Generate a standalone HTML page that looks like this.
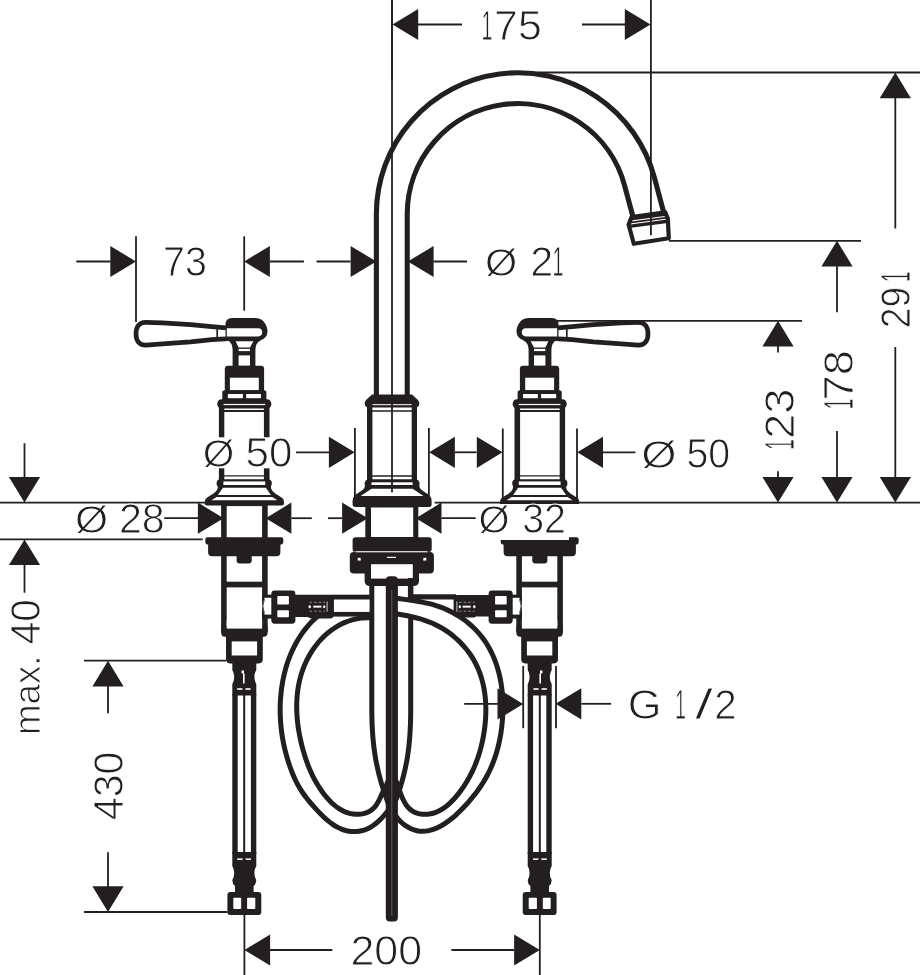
<!DOCTYPE html>
<html lang="en"><head><meta charset="utf-8"><title>Dimensional drawing</title>
<style>html,body{margin:0;padding:0;background:#fff}body{width:920px;height:975px;overflow:hidden}</style>
</head><body>
<svg width="920" height="975" viewBox="0 0 920 975" font-family='"Liberation Sans", "DejaVu Sans", sans-serif' style="display:block;will-change:transform;opacity:0.999">
<rect width="920" height="975" fill="#fff"/>
<path d="M391.8,398 V214.2 A126.0,126.0 0 0 1 639.51,181.59 L649.34,218.29" fill="none" stroke="#231f20" stroke-width="35.95" />
<path d="M391.8,398 V214.2 A126.0,126.0 0 0 1 639.51,181.59 L649.34,218.29" fill="none" stroke="#fff" stroke-width="25.75" />
<polygon points="631.6,217 665.4,212.4 667.8,218.6 668.8,238.2 633.8,243.8 628.6,224.6" fill="#fff" stroke="#231f20" stroke-width="4.2" stroke-linejoin="round"/>
<line x1="630.3" y1="218.4" x2="666.4" y2="213.6" stroke="#231f20" stroke-width="4.2" />
<line x1="629.6" y1="222.6" x2="667.2" y2="217.6" stroke="#231f20" stroke-width="1.6" />
<line x1="628.8" y1="226.4" x2="667.6" y2="221.2" stroke="#231f20" stroke-width="3.4" />
<path d="M372,394.6 H412 L417.4,399.4 Q419.3,401 419.3,403.3 Q419.3,407.6 415,407.6 H369 Q364.7,407.6 364.7,403.3 Q364.7,401 366.6,399.4 Z" fill="#231f20" stroke="none" stroke-width="0" />
<line x1="372.5" y1="404.7" x2="411.6" y2="404.7" stroke="#fff" stroke-width="1"/>
<rect x="367" y="405" width="5.4" height="75" rx="0" fill="#231f20" />
<rect x="411.7" y="405" width="5.3" height="75" rx="0" fill="#231f20" />
<line x1="372" y1="411.1" x2="412" y2="411.1" stroke="#231f20" stroke-width="1.5" />
<line x1="372" y1="476" x2="412" y2="476" stroke="#231f20" stroke-width="1.3" />
<rect x="364.6" y="479.2" width="55" height="8.8" rx="4.3" fill="#231f20" />
<rect x="371.5" y="482.3" width="41.1" height="2.9" rx="0" fill="#fff" />
<path d="M365,485 C365,491.5 356.5,492 353.6,497 Q352.6,498.6 352.6,501 V504.5 Q352.6,507 355.6,507 H428.6 Q431.6,507 431.6,504.5 V501 Q431.6,498.6 430.6,497 C427.7,492 419.2,491.5 419.2,485 Z" fill="#231f20" stroke="none" stroke-width="0" />
<polygon points="371.5,488.8 412.6,488.8 423.5,496 360.6,496" fill="#fff" stroke="none" stroke-width="0" />
<rect x="365.3" y="506" width="53" height="32" rx="0" fill="#231f20" />
<rect x="371" y="507.5" width="42.2" height="29.5" rx="0" fill="#fff" />
<rect x="352.6" y="537.3" width="79.1" height="14.7" rx="3" fill="#231f20" />
<rect x="349.8" y="552" width="84.1" height="21.4" rx="4" fill="#231f20" />
<rect x="355.4" y="551.2" width="72.2" height="1.1" rx="0" fill="#fff" />
<rect x="357.7" y="557.8" width="3" height="2.8" rx="0" fill="#fff" />
<rect x="423.3" y="557.8" width="3" height="2.8" rx="0" fill="#fff" />
<rect x="387" y="556.8" width="9" height="1.2" rx="0" fill="#fff" />
<path d="M364.6,570 V581 Q364.6,586 370.3,586 H413.4 Q419,586 419,581 V570 Z" fill="#231f20" stroke="none" stroke-width="0" />
<rect x="371" y="564.2" width="41.8" height="14.4" rx="0" fill="#fff" />
<path d="M324.2,611.05 C323.48,611.6 321.28,613.2 319.88,614.33 C318.48,615.45 317.13,616.62 315.81,617.81 C314.5,619.01 313.22,620.23 311.99,621.49 C310.75,622.75 309.56,624.04 308.41,625.36 C307.25,626.67 306.14,628.02 305.06,629.4 C303.98,630.77 302.94,632.17 301.94,633.6 C300.94,635.02 299.98,636.47 299.06,637.95 C298.13,639.42 297.25,640.92 296.39,642.43 C295.54,643.95 294.73,645.49 293.95,647.05 C293.17,648.61 292.43,650.19 291.72,651.78 C291.01,653.38 290.34,654.99 289.7,656.62 C289.06,658.24 288.46,659.89 287.89,661.54 C287.32,663.2 286.78,664.87 286.28,666.55 C285.77,668.23 285.3,669.93 284.87,671.63 C284.43,673.33 284.02,675.04 283.64,676.76 C283.27,678.48 282.93,680.21 282.61,681.94 C282.3,683.68 282.02,685.42 281.76,687.16 C281.51,688.9 281.29,690.65 281.1,692.4 C280.91,694.15 280.74,695.9 280.61,697.66 C280.48,699.41 280.37,701.17 280.3,702.93 C280.22,704.69 280.18,706.45 280.16,708.21 C280.14,709.97 280.16,711.74 280.19,713.5 C280.23,715.26 280.3,717.02 280.4,718.78 C280.49,720.54 280.62,722.29 280.77,724.05 C280.92,725.8 281.1,727.56 281.3,729.3 C281.51,731.05 281.74,732.8 282,734.54 C282.26,736.28 282.55,738.02 282.86,739.75 C283.17,741.48 283.51,743.21 283.88,744.93 C284.24,746.65 284.63,748.36 285.05,750.07 C285.46,751.78 285.9,753.48 286.37,755.17 C286.84,756.86 287.33,758.54 287.85,760.22 C288.36,761.89 288.9,763.56 289.47,765.21 C290.04,766.86 290.62,768.51 291.24,770.14 C291.86,771.77 292.5,773.4 293.17,775 C293.85,776.61 294.55,778.2 295.29,779.77 C296.03,781.33 296.8,782.89 297.62,784.42 C298.44,785.94 299.29,787.45 300.2,788.93 C301.1,790.41 302.05,791.86 303.05,793.28 C304.04,794.71 305.09,796.1 306.16,797.49 C307.23,798.87 308.35,800.23 309.48,801.6 C310.61,802.96 311.76,804.32 312.93,805.67 C314.1,807.01 315.29,808.36 316.5,809.68 C317.72,811 318.96,812.31 320.22,813.58 C321.49,814.86 322.77,816.11 324.1,817.32 C325.42,818.54 326.77,819.72 328.15,820.85 C329.53,821.98 330.95,823.08 332.4,824.09 C333.85,825.11 335.33,826.08 336.86,826.93 C338.39,827.77 339.95,828.54 341.55,829.17 C343.15,829.79 344.79,830.31 346.44,830.7 C348.1,831.09 349.78,831.36 351.46,831.5 C353.14,831.63 354.84,831.65 356.52,831.53 C358.19,831.42 359.88,831.17 361.53,830.79 C363.18,830.4 364.83,829.89 366.42,829.23 C368.02,828.58 369.6,827.77 371.12,826.85 C372.64,825.94 374.12,824.87 375.55,823.75 C376.98,822.63 378.36,821.38 379.68,820.11 C381,818.84 382.28,817.48 383.48,816.12 C384.68,814.77 385.83,813.35 386.9,811.98 C387.97,810.6 389.41,808.55 389.91,807.87" fill="none" stroke="#231f20" stroke-width="5.0" />
<path d="M372.3,617.7 C371.35,617.69 368.47,617.58 366.6,617.65 C364.73,617.72 362.89,617.87 361.08,618.09 C359.27,618.32 357.49,618.63 355.74,619 C353.99,619.38 352.27,619.84 350.58,620.36 C348.9,620.88 347.24,621.47 345.62,622.13 C344,622.79 342.42,623.51 340.87,624.3 C339.31,625.08 337.8,625.93 336.31,626.83 C334.83,627.73 333.39,628.7 331.98,629.71 C330.57,630.73 329.2,631.8 327.86,632.91 C326.53,634.03 325.23,635.2 323.98,636.41 C322.72,637.62 321.5,638.88 320.33,640.18 C319.15,641.47 318.01,642.82 316.92,644.19 C315.82,645.57 314.77,646.98 313.76,648.43 C312.75,649.87 311.78,651.35 310.86,652.86 C309.93,654.37 309.05,655.91 308.22,657.47 C307.38,659.03 306.59,660.62 305.85,662.22 C305.11,663.83 304.41,665.46 303.76,667.1 C303.11,668.74 302.5,670.41 301.95,672.08 C301.39,673.75 300.89,675.44 300.43,677.14 C299.96,678.84 299.55,680.55 299.18,682.27 C298.81,683.98 298.48,685.71 298.2,687.45 C297.91,689.19 297.67,690.93 297.47,692.69 C297.27,694.44 297.11,696.2 296.98,697.96 C296.86,699.72 296.78,701.49 296.73,703.26 C296.69,705.03 296.68,706.81 296.71,708.58 C296.73,710.36 296.8,712.14 296.89,713.91 C296.99,715.69 297.12,717.47 297.28,719.24 C297.44,721.02 297.63,722.79 297.86,724.56 C298.08,726.33 298.34,728.1 298.62,729.86 C298.9,731.62 299.21,733.38 299.55,735.13 C299.89,736.88 300.25,738.62 300.64,740.36 C301.03,742.09 301.45,743.82 301.88,745.53 C302.32,747.25 302.78,748.96 303.26,750.65 C303.74,752.34 304.25,754.02 304.77,755.69 C305.3,757.36 305.84,759.02 306.41,760.66 C306.99,762.3 307.58,763.93 308.21,765.55 C308.83,767.17 309.48,768.77 310.17,770.36 C310.86,771.95 311.57,773.53 312.32,775.09 C313.08,776.65 313.86,778.2 314.69,779.73 C315.52,781.27 316.38,782.79 317.29,784.29 C318.19,785.8 319.14,787.29 320.14,788.76 C321.13,790.24 322.17,791.71 323.26,793.15 C324.34,794.59 325.48,796.03 326.66,797.41 C327.85,798.79 329.08,800.15 330.36,801.43 C331.64,802.71 332.96,803.95 334.34,805.1 C335.71,806.25 337.14,807.34 338.61,808.31 C340.08,809.28 341.6,810.18 343.17,810.94 C344.74,811.71 346.36,812.38 348.02,812.89 C349.68,813.41 351.42,813.8 353.14,814.04 C354.87,814.28 356.65,814.38 358.38,814.31 C360.1,814.24 361.85,814.02 363.51,813.63 C365.16,813.23 366.8,812.68 368.32,811.93 C369.83,811.18 371.29,810.26 372.59,809.14 C373.89,808.02 375.06,806.67 376.12,805.2 C377.18,803.74 378.06,802.03 378.93,800.37 C379.8,798.7 380.54,796.88 381.31,795.21 C382.09,793.54 382.81,791.85 383.58,790.34 C384.35,788.82 385.2,787.64 385.94,786.1 C386.69,784.56 387.68,781.92 388.03,781.08" fill="none" stroke="#231f20" stroke-width="5.0" />
<path d="M371.8,584 V712 C372,745 376,772 388.5,804" fill="none" stroke="#231f20" stroke-width="5.0" />
<path d="M408,596.8 H456" fill="none" stroke="#231f20" stroke-width="5.2" />
<path d="M391.95,605.73 C392.33,605.74 393.47,605.78 394.24,605.82 C395,605.86 395.76,605.91 396.52,605.96 C397.28,606.01 398.04,606.07 398.81,606.14 C399.57,606.21 400.33,606.29 401.09,606.37 C401.86,606.45 402.62,606.54 403.38,606.64 C404.14,606.73 404.9,606.84 405.66,606.95 C406.42,607.06 407.18,607.18 407.94,607.3 C408.7,607.43 409.46,607.56 410.22,607.7 C410.98,607.84 411.74,607.99 412.49,608.14 C413.25,608.3 414,608.46 414.75,608.63 C415.51,608.79 416.26,608.97 417.01,609.15 C417.76,609.33 418.51,609.52 419.26,609.72 C420,609.92 420.75,610.12 421.49,610.33 C422.23,610.54 422.97,610.76 423.71,610.99 C424.45,611.21 425.19,611.45 425.92,611.68 C426.66,611.92 427.39,612.17 428.12,612.42 C428.85,612.68 429.57,612.94 430.3,613.21 C431.02,613.47 431.74,613.75 432.46,614.03 C433.18,614.31 433.89,614.6 434.61,614.9 C435.32,615.19 436.03,615.5 436.73,615.81 C437.44,616.12 438.14,616.43 438.84,616.76 C439.53,617.08 440.23,617.41 440.92,617.75 C441.61,618.09 442.3,618.43 442.98,618.78 C443.66,619.14 444.34,619.5 445.01,619.86 C445.69,620.23 446.36,620.6 447.02,620.98 C447.69,621.36 448.35,621.75 449.01,622.14 C449.66,622.54 450.31,622.94 450.96,623.34 C451.61,623.75 452.25,624.17 452.89,624.59 C453.52,625.01 454.15,625.44 454.78,625.87 C455.41,626.31 456.03,626.75 456.64,627.2 C457.26,627.65 457.87,628.11 458.47,628.57 C459.08,629.03 459.68,629.5 460.27,629.98 C460.86,630.45 461.45,630.94 462.03,631.43 C462.61,631.92 463.19,632.41 463.76,632.92 C464.32,633.42 464.89,633.93 465.44,634.45 C466,634.96 466.55,635.49 467.09,636.01 C467.63,636.54 468.17,637.08 468.7,637.62 C469.23,638.16 469.75,638.71 470.26,639.27 C470.78,639.82 471.29,640.39 471.79,640.95 C472.29,641.52 472.78,642.1 473.27,642.68 C473.76,643.26 474.24,643.85 474.71,644.44 C475.18,645.03 475.64,645.63 476.1,646.24 C476.55,646.84 477,647.46 477.44,648.07 C477.88,648.69 478.31,649.32 478.74,649.95 C479.16,650.58 479.58,651.21 479.98,651.86 C480.39,652.5 480.79,653.15 481.18,653.8 C481.57,654.46 481.95,655.12 482.32,655.79 C482.7,656.45 483.06,657.12 483.41,657.8 C483.77,658.48 484.12,659.17 484.45,659.86 C484.79,660.55 485.12,661.24 485.43,661.94 C485.75,662.65 486.06,663.35 486.36,664.07 C486.66,664.78 486.95,665.5 487.23,666.22 C487.51,666.95 487.78,667.68 488.04,668.42 C488.3,669.15 488.55,669.89 488.79,670.64 C489.03,671.39 489.26,672.14 489.48,672.9 C489.69,673.66 489.9,674.42 490.1,675.19 C490.3,675.96 490.49,676.73 490.67,677.51 C490.84,678.3 491.01,679.08 491.16,679.87 C491.32,680.66 491.52,681.86 491.6,682.26" fill="none" stroke="#fff" stroke-width="13.0" />
<path d="M391.97,597.58 C393.03,597.73 396.19,598.21 398.29,598.5 C400.39,598.8 402.49,599.08 404.58,599.36 C406.67,599.65 408.76,599.93 410.83,600.24 C412.91,600.55 414.98,600.86 417.04,601.21 C419.1,601.55 421.16,601.92 423.2,602.33 C425.24,602.74 427.28,603.18 429.3,603.69 C431.32,604.19 433.34,604.74 435.34,605.35 C437.34,605.97 439.33,606.65 441.3,607.4 C443.28,608.15 445.24,608.98 447.18,609.86 C449.11,610.75 451.03,611.71 452.92,612.73 C454.8,613.75 456.66,614.83 458.48,615.97 C460.29,617.11 462.08,618.32 463.81,619.58 C465.55,620.83 467.24,622.15 468.88,623.51 C470.51,624.88 472.11,626.3 473.63,627.76 C475.15,629.23 476.62,630.75 478.02,632.31 C479.42,633.87 480.75,635.48 482.02,637.12 C483.29,638.77 484.49,640.46 485.63,642.18 C486.77,643.91 487.85,645.68 488.87,647.48 C489.88,649.27 490.84,651.11 491.74,652.97 C492.63,654.84 493.47,656.74 494.25,658.66 C495.03,660.58 495.75,662.53 496.42,664.51 C497.09,666.48 497.7,668.48 498.26,670.5 C498.81,672.52 499.32,674.56 499.77,676.62 C500.22,678.68 500.63,680.75 500.98,682.84 C501.33,684.93 501.63,687.03 501.88,689.14 C502.14,691.25 502.34,693.37 502.5,695.5 C502.66,697.63 502.78,699.76 502.85,701.9 C502.92,704.04 502.94,706.18 502.92,708.32 C502.91,710.46 502.85,712.6 502.75,714.73 C502.65,716.87 502.51,719 502.33,721.12 C502.15,723.25 501.93,725.37 501.67,727.47 C501.42,729.58 501.12,731.68 500.79,733.76 C500.45,735.85 500.07,737.92 499.66,739.98 C499.24,742.04 498.78,744.09 498.27,746.12 C497.77,748.16 497.22,750.18 496.63,752.18 C496.03,754.18 495.4,756.16 494.71,758.13 C494.03,760.09 493.3,762.04 492.52,763.97 C491.75,765.9 490.92,767.8 490.05,769.69 C489.17,771.57 488.25,773.44 487.28,775.27 C486.31,777.11 485.28,778.93 484.21,780.72 C483.14,782.51 482.01,784.27 480.85,786.01 C479.68,787.75 478.47,789.47 477.23,791.16 C475.98,792.86 474.69,794.52 473.38,796.17 C472.07,797.81 470.71,799.44 469.34,801.03 C467.97,802.63 466.57,804.21 465.14,805.76 C463.71,807.31 462.26,808.84 460.76,810.34 C459.25,811.84 457.71,813.33 456.11,814.77 C454.5,816.22 452.84,817.65 451.13,819 C449.42,820.35 447.66,821.68 445.86,822.88 C444.06,824.08 442.22,825.22 440.35,826.22 C438.49,827.21 436.58,828.12 434.66,828.85 C432.74,829.58 430.79,830.19 428.83,830.59 C426.87,830.99 424.89,831.24 422.91,831.26 C420.94,831.28 418.94,831.11 416.97,830.69 C414.99,830.28 412.99,829.63 411.08,828.79 C409.17,827.95 407.27,826.89 405.5,825.68 C403.72,824.47 402,823.06 400.45,821.53 C398.9,820 397.45,818.29 396.2,816.49 C394.96,814.7 393.53,811.71 393,810.75" fill="none" stroke="#231f20" stroke-width="5.0" />
<path d="M391.94,613.04 C392.88,613.19 395.7,613.63 397.56,613.95 C399.43,614.26 401.29,614.59 403.14,614.94 C404.99,615.28 406.82,615.64 408.65,616.04 C410.48,616.43 412.29,616.84 414.1,617.29 C415.9,617.73 417.69,618.21 419.46,618.72 C421.24,619.24 423,619.78 424.74,620.38 C426.48,620.97 428.21,621.6 429.92,622.29 C431.63,622.97 433.33,623.7 435,624.49 C436.67,625.28 438.33,626.12 439.96,627.02 C441.59,627.92 443.2,628.88 444.79,629.89 C446.37,630.9 447.93,631.98 449.46,633.1 C450.98,634.22 452.48,635.39 453.94,636.61 C455.4,637.82 456.83,639.09 458.21,640.4 C459.59,641.71 460.94,643.06 462.23,644.45 C463.53,645.84 464.78,647.27 465.98,648.74 C467.17,650.2 468.33,651.7 469.42,653.23 C470.51,654.76 471.55,656.33 472.52,657.92 C473.5,659.51 474.41,661.13 475.27,662.77 C476.13,664.41 476.93,666.08 477.67,667.77 C478.42,669.46 479.11,671.17 479.74,672.9 C480.38,674.63 480.96,676.38 481.49,678.15 C482.02,679.92 482.49,681.71 482.92,683.51 C483.35,685.3 483.73,687.12 484.06,688.95 C484.39,690.77 484.67,692.61 484.91,694.46 C485.14,696.3 485.33,698.16 485.48,700.03 C485.63,701.89 485.73,703.76 485.79,705.63 C485.86,707.51 485.87,709.39 485.85,711.27 C485.83,713.15 485.77,715.03 485.68,716.91 C485.58,718.79 485.44,720.67 485.27,722.54 C485.1,724.42 484.89,726.29 484.65,728.16 C484.41,730.02 484.14,731.88 483.83,733.73 C483.53,735.58 483.19,737.43 482.82,739.26 C482.45,741.09 482.05,742.91 481.62,744.72 C481.19,746.53 480.72,748.33 480.22,750.11 C479.72,751.9 479.19,753.67 478.62,755.44 C478.06,757.2 477.45,758.95 476.81,760.68 C476.17,762.42 475.5,764.14 474.78,765.85 C474.07,767.56 473.32,769.25 472.52,770.93 C471.73,772.61 470.9,774.27 470.03,775.92 C469.16,777.57 468.25,779.2 467.29,780.82 C466.34,782.44 465.34,784.04 464.3,785.62 C463.26,787.21 462.18,788.78 461.05,790.33 C459.93,791.87 458.76,793.42 457.54,794.91 C456.32,796.41 455.06,797.89 453.75,799.3 C452.44,800.7 451.08,802.08 449.68,803.36 C448.28,804.63 446.83,805.86 445.33,806.96 C443.83,808.07 442.28,809.1 440.68,809.99 C439.08,810.89 437.43,811.68 435.74,812.32 C434.04,812.96 432.28,813.48 430.49,813.82 C428.7,814.16 426.83,814.37 425.01,814.37 C423.18,814.38 421.32,814.23 419.56,813.86 C417.81,813.49 416.06,812.94 414.48,812.17 C412.89,811.4 411.39,810.4 410.03,809.23 C408.68,808.07 407.45,806.67 406.35,805.17 C405.25,803.68 404.3,801.97 403.42,800.24 C402.54,798.51 401.78,796.63 401.05,794.79 C400.32,792.95 399.69,791.02 399.04,789.19 C398.39,787.35 397.8,785.5 397.16,783.8 C396.52,782.1 395.54,779.79 395.21,778.99" fill="none" stroke="#231f20" stroke-width="5.0" />
<path d="M410.7,617 V712 C410.6,745 407,770 396,800" fill="none" stroke="#231f20" stroke-width="5.0" />
<rect x="407.9" y="578" width="5.5" height="19" rx="0" fill="#231f20" />
<rect x="331" y="594.7" width="40.8" height="21.9" rx="0" fill="#231f20" />
<rect x="333.6" y="599.5" width="36" height="12.4" rx="0" fill="#fff" />
<path d="M294,594.7 H330 Q333.8,594.7 333.8,598 V615 Q333.8,618.4 330,618.4 H312 Q309,618.4 308,617 L294,617 Z" fill="#231f20" stroke="none" stroke-width="0" />
<path d="M309.5,602.3 H325 M309.5,611.2 H325" fill="none" stroke="#9a9899" stroke-width="0.9" stroke-dasharray="2.6 2"/>
<rect x="313.3" y="605.7" width="8.1" height="1.9" rx="0" fill="#fff" />
<rect x="308.6" y="605.2" width="2.2" height="3" rx="1" fill="#fff" />
<rect x="323.2" y="605.2" width="2" height="3" rx="1" fill="#fff" />
<rect x="326.6" y="601.5" width="1" height="10.3" rx="0" fill="#c9c8c8" />
<path d="M490,594.9 H457.6 Q453.6,594.9 453.6,598.6 V613.6 Q453.6,617.6 457.6,617.6 H472 Q475,617.6 476,616.4 L490,616.4 Z" fill="#231f20" stroke="none" stroke-width="0" />
<path d="M459,602.3 H474.5 M459,611.2 H474.5" fill="none" stroke="#9a9899" stroke-width="0.9" stroke-dasharray="2.6 2"/>
<rect x="462.6" y="605.7" width="8.1" height="1.9" rx="0" fill="#fff" />
<rect x="458.8" y="605.2" width="2" height="3" rx="1" fill="#fff" />
<rect x="473.2" y="605.2" width="2.2" height="3" rx="1" fill="#fff" />
<rect x="456.4" y="601.5" width="1" height="10.3" rx="0" fill="#c9c8c8" />
<g id="valveL">
<path d="M226,327.9 L211.8,326.6 L190.6,324.7 L162.4,322.9 L146,322.3 C138.5,322.2 136,327.5 136,333.8 C136,340 138.5,345.3 146,345.1 L162.4,343.9 L190.6,341.8 L211.8,339.7 L226,338.8" fill="none" stroke="#231f20" stroke-width="4.7" stroke-linejoin="round"/>
<line x1="217.2" y1="327" x2="217.2" y2="339.6" stroke="#231f20" stroke-width="1.7" />
<path d="M225.5,341 V324.5 Q225.5,318 232,317.9 H255 Q261,317.9 263.6,321.5 Q267.5,326 267.5,331.5 Q267.5,338.5 259,341 Z" fill="#231f20" stroke="none" stroke-width="0" />
<path d="M226.8,328.3 H258 Q262.2,328.3 262.2,332.3 Q262.2,336.4 258,336.4 H226.8 Z" fill="#fff" stroke="none" stroke-width="0" />
<path d="M227.5,340 Q232.6,343 232.6,349.5 V366.5 H255.4 V349.5 Q255.4,343 261,340 Z" fill="#231f20" stroke="none" stroke-width="0" />
<polygon points="235.6,341.2 253.4,341.2 250,347.6 238.6,347.6" fill="#fff" stroke="none" stroke-width="0" />
<rect x="238.6" y="348.9" width="11.4" height="2.2" rx="0" fill="#fff" />
<rect x="238.6" y="355.4" width="11.4" height="10.4" rx="0" fill="#fff" />
<path d="M224.8,391 V369 Q224.8,365.8 228,365.8 H261 Q264.1,365.8 264.1,369 V391 Z" fill="#231f20" stroke="none" stroke-width="0" />
<rect x="229.9" y="377.7" width="28.9" height="12.5" rx="0" fill="#fff" />
<path d="M222.3,400 V392.6 Q222.3,390.2 225,390.2 H263.8 Q266.4,390.2 266.4,392.6 V400 Z" fill="#231f20" stroke="none" stroke-width="0" />
<rect x="227.8" y="394" width="15.1" height="4.2" rx="0" fill="#fff" />
<rect x="246.1" y="394" width="14.8" height="4.2" rx="0" fill="#fff" />
<rect x="217.3" y="399.2" width="54" height="9.4" rx="4.4" fill="#231f20" />
<rect x="223.5" y="403.9" width="41.7" height="1.2" rx="0" fill="#fff" />
<rect x="218.9" y="406" width="5.4" height="74" rx="0" fill="#231f20" />
<rect x="263.9" y="406" width="5.6" height="74" rx="0" fill="#231f20" />
<line x1="224" y1="410.9" x2="264" y2="410.9" stroke="#231f20" stroke-width="2.0" />
<line x1="224" y1="475.9" x2="264" y2="475.9" stroke="#231f20" stroke-width="1.3" />
<rect x="216.6" y="479.3" width="55.2" height="8.3" rx="4.1" fill="#231f20" />
<rect x="223.4" y="481.4" width="41.8" height="3.6" rx="0" fill="#fff" />
<path d="M218,486 C218,493 210,495 206,498.4 Q204.8,499.6 204.8,502 V503 Q204.8,505.6 207.6,505.6 H281.2 Q284,505.6 284,503 V502 Q284,499.6 282.8,498.4 C278.8,495 270.8,493 270.8,486 Z" fill="#231f20" stroke="none" stroke-width="0" />
<polygon points="222.9,487.8 265.9,487.8 270.9,494.9 217.9,494.9" fill="#fff" stroke="none" stroke-width="0" />
<polygon points="211.4,500.3 216.5,496.9 272.3,496.9 277.4,500.3" fill="#fff" stroke="none" stroke-width="0" />
<rect x="221.1" y="505" width="46.6" height="127" rx="0" fill="#231f20" />
<rect x="226.7" y="506.1" width="35.4" height="122.5" rx="0" fill="#fff" />
<path d="M205.3,539.2 Q205.3,537.2 207.3,537.2 H281.3 Q283.3,537.2 283.3,539.2 V542.3 Q283.3,544.3 280.4,544.8 V552.3 Q280.4,556.3 276.4,556.3 H212.1 Q208.1,556.3 208.1,552.3 V544.8 Q205.3,544.3 205.3,542.3 Z" fill="#231f20" stroke="none" stroke-width="0" />
<path d="M236.6,555 V560.4 Q236.6,563.4 239.6,563.4 H248.7 Q251.7,563.4 251.7,560.4 V555 Z" fill="#231f20" stroke="none" stroke-width="0" />
<rect x="226" y="581.7" width="37" height="5.7" rx="0" fill="#231f20" />
<path d="M221.1,626 V632.4 Q221.1,636.6 225.2,636.8 L226,637 V659.3 Q226,663.4 230,663.4 H258.8 Q262.8,663.4 262.8,659.3 V637 L263.6,636.8 Q267.7,636.6 267.7,632.4 V626 Z" fill="#231f20" stroke="none" stroke-width="0" />
<rect x="226.7" y="620" width="35.4" height="8.6" rx="0" fill="#fff" />
<rect x="231.7" y="641.4" width="25.4" height="14.1" rx="0" fill="#fff" />
<path d="M232.3,662 V670 Q234.2,673 234.2,677 Q234.2,681 232.3,684 V695.5 H256.3 V684 Q254.4,681 254.4,677 Q254.4,673 256.3,670 V662 Z" fill="#231f20" stroke="none" stroke-width="0" />
<rect x="241.6" y="670.5" width="2.4" height="3" rx="0" fill="#fff" />
<rect x="243" y="673.5" width="1.6" height="10" rx="0" fill="#fff" />
<rect x="237.2" y="688.2" width="5.2" height="1.6" rx="0" fill="#fff" />
<rect x="245.4" y="688.2" width="5.2" height="1.6" rx="0" fill="#fff" />
<rect x="232.3" y="694" width="24" height="160" rx="0" fill="#231f20" />
<rect x="237.7" y="695.5" width="5.5" height="157.2" rx="0" fill="#fff" />
<rect x="245.2" y="695.5" width="5.7" height="157.2" rx="0" fill="#fff" />
<path d="M232.3,852 V866 Q234.2,869 234.2,873 Q234.2,877 232.3,880 Q232.3,884 235,886 V893 H253.6 V886 Q256.3,884 256.3,880 Q254.4,877 254.4,873 Q254.4,869 256.3,866 V852 Z" fill="#231f20" stroke="none" stroke-width="0" />
<rect x="237.2" y="858.4" width="5.4" height="1.5" rx="0" fill="#fff" />
<rect x="245.6" y="858.4" width="5.4" height="1.5" rx="0" fill="#fff" />
<rect x="227.4" y="891.9" width="33.9" height="23.1" rx="3" fill="#231f20" />
<rect x="233.3" y="897.7" width="7.9" height="11.3" rx="0.8" fill="#fff" />
<rect x="247.1" y="897.7" width="8.2" height="11.3" rx="0.8" fill="#fff" />
<rect x="262" y="594.6" width="11" height="24" rx="0" fill="#231f20" />
<rect x="264.6" y="597.8" width="7.4" height="16.8" rx="0" fill="#fff" />
<path d="M265,597.8 Q259.6,606.2 265,614.6 Z" fill="#fff" stroke="none" stroke-width="0" />
<path d="M264.3,599.2 Q261.4,606.2 264.3,613.2" fill="none" stroke="#231f20" stroke-width="0.9" />
<rect x="271.3" y="590.5" width="24.1" height="33.2" rx="3.4" fill="#231f20" />
<rect x="277.3" y="596.1" width="11.6" height="8.5" rx="0.8" fill="#fff" />
<rect x="277.3" y="610.3" width="11.6" height="7" rx="0.8" fill="#fff" />
</g>
<use href="#valveL" transform="translate(784 0) scale(-1 1)"/>
<rect x="385.8" y="576.2" width="12.1" height="345.3" rx="4" fill="#231f20" />
<line x1="391.8" y1="590" x2="391.8" y2="916" stroke="#777" stroke-width="0.7"/>
<line x1="392" y1="0" x2="392" y2="492.3" stroke="#231f20" stroke-width="1.8" />
<text font-size="42" fill="#231f20" stroke="#fff" stroke-width="0.9"><tspan x="481.5" y="40" textLength="10.97" lengthAdjust="spacingAndGlyphs">1</tspan><tspan x="494.11" y="40" textLength="47.7" lengthAdjust="spacingAndGlyphs">75</tspan></text>
<text font-size="42" fill="#231f20" stroke="#fff" stroke-width="0.9" transform="translate(910.1 0) rotate(-90)"><tspan x="-328.26" y="0" textLength="41.31" lengthAdjust="spacingAndGlyphs">29</tspan><tspan x="-282.2" y="0" textLength="10.97" lengthAdjust="spacingAndGlyphs">1</tspan></text>
<text font-size="42" fill="#231f20" stroke="#fff" stroke-width="0.9" transform="translate(853.1 0) rotate(-90)"><tspan x="-409.5" y="0" textLength="10.97" lengthAdjust="spacingAndGlyphs">1</tspan><tspan x="-400.51" y="0" textLength="50.48" lengthAdjust="spacingAndGlyphs">78</tspan></text>
<text font-size="42" fill="#231f20" stroke="#fff" stroke-width="0.9" transform="translate(794.1 0) rotate(-90)"><tspan x="-450" y="0" textLength="10.97" lengthAdjust="spacingAndGlyphs">1</tspan><tspan x="-438.97" y="0" textLength="50.48" lengthAdjust="spacingAndGlyphs">23</tspan></text>
<text font-size="42" fill="#231f20" stroke="#fff" stroke-width="0.9"><tspan x="162.99" y="275.75" textLength="43.86" lengthAdjust="spacingAndGlyphs">73</tspan></text>
<text font-size="42" fill="#231f20" stroke="#fff" stroke-width="0.9"><tspan x="485.05" y="276.1" font-size="39.5" textLength="32.25" lengthAdjust="spacingAndGlyphs">Ø</tspan> <tspan x="530.14" y="276.1" textLength="22.93" lengthAdjust="spacingAndGlyphs">2</tspan><tspan x="552.5" y="276.1" textLength="10.97" lengthAdjust="spacingAndGlyphs">1</tspan></text>
<text font-size="42" fill="#231f20" stroke="#fff" stroke-width="0.9" transform="translate(40.4 0) rotate(-90)"><tspan x="-735.13" y="0" font-size="36" textLength="79.67" lengthAdjust="spacingAndGlyphs">max.</tspan> <tspan x="-644.23" y="0" textLength="45.13" lengthAdjust="spacingAndGlyphs">40</tspan></text>
<text font-size="42" fill="#231f20" stroke="#fff" stroke-width="0.9" transform="translate(123.1 0) rotate(-90)"><tspan x="-820.25" y="0" textLength="68.67" lengthAdjust="spacingAndGlyphs">430</tspan></text>
<text font-size="42" fill="#231f20" stroke="#fff" stroke-width="0.9"><tspan x="350.45" y="964.9" textLength="71.64" lengthAdjust="spacingAndGlyphs">200</tspan></text>
<text font-size="42" fill="#231f20" stroke="#fff" stroke-width="0.9"><tspan x="627.83" y="719.4" textLength="33.71" lengthAdjust="spacingAndGlyphs">G</tspan> <tspan x="675" y="719.4" textLength="10.97" lengthAdjust="spacingAndGlyphs">1</tspan><tspan x="695" y="719.4" textLength="17.99" lengthAdjust="spacingAndGlyphs">/</tspan><tspan x="714.18" y="719.4" textLength="22.44" lengthAdjust="spacingAndGlyphs">2</tspan></text>
<line x1="392" y1="0" x2="392" y2="80" stroke="#231f20" stroke-width="1.8" />
<line x1="650.9" y1="0" x2="650.9" y2="235.3" stroke="#231f20" stroke-width="1.8" />
<polygon points="392.5,24.5 418.2,8.9 418.2,40.1" fill="#231f20" stroke="none" stroke-width="0" />
<polygon points="650.5,24.5 624.8,8.9 624.8,40.1" fill="#231f20" stroke="none" stroke-width="0" />
<line x1="418" y1="24.5" x2="462" y2="24.5" stroke="#231f20" stroke-width="1.8" />
<line x1="582" y1="24.5" x2="625" y2="24.5" stroke="#231f20" stroke-width="1.8" />
<line x1="537" y1="72.5" x2="920" y2="72.5" stroke="#231f20" stroke-width="1.8" />
<line x1="669" y1="240.8" x2="861" y2="240.8" stroke="#231f20" stroke-width="1.8" />
<line x1="557" y1="320.8" x2="802" y2="320.8" stroke="#231f20" stroke-width="1.8" />
<line x1="434.6" y1="502.6" x2="920" y2="502.6" stroke="#231f20" stroke-width="1.8" />
<polygon points="895.3,72.5 879.7,98.2 910.9,98.2" fill="#231f20" stroke="none" stroke-width="0" />
<line x1="895.3" y1="98" x2="895.3" y2="228.5" stroke="#231f20" stroke-width="1.8" />
<line x1="895.3" y1="347" x2="895.3" y2="478" stroke="#231f20" stroke-width="1.8" />
<polygon points="895.3,502.6 879.7,476.9 910.9,476.9" fill="#231f20" stroke="none" stroke-width="0" />
<polygon points="837,240.8 821.4,266.5 852.6,266.5" fill="#231f20" stroke="none" stroke-width="0" />
<line x1="837" y1="266" x2="837" y2="312.3" stroke="#231f20" stroke-width="1.8" />
<line x1="837" y1="431" x2="837" y2="478" stroke="#231f20" stroke-width="1.8" />
<polygon points="837,502.6 821.4,476.9 852.6,476.9" fill="#231f20" stroke="none" stroke-width="0" />
<polygon points="778,320.8 762.4,346.5 793.6,346.5" fill="#231f20" stroke="none" stroke-width="0" />
<line x1="778" y1="346" x2="778" y2="352.6" stroke="#231f20" stroke-width="1.8" />
<line x1="778" y1="471.3" x2="778" y2="478" stroke="#231f20" stroke-width="1.8" />
<polygon points="778,502.6 762.4,476.9 793.6,476.9" fill="#231f20" stroke="none" stroke-width="0" />
<line x1="136" y1="236.3" x2="136" y2="322" stroke="#231f20" stroke-width="1.8" />
<line x1="244.2" y1="236.3" x2="244.2" y2="310.6" stroke="#231f20" stroke-width="1.8" />
<line x1="76.3" y1="261.5" x2="110.5" y2="261.5" stroke="#231f20" stroke-width="1.8" />
<polygon points="136,261.5 110.3,245.9 110.3,277.1" fill="#231f20" stroke="none" stroke-width="0" />
<polygon points="244.2,261.5 269.9,245.9 269.9,277.1" fill="#231f20" stroke="none" stroke-width="0" />
<line x1="270" y1="261.5" x2="303.9" y2="261.5" stroke="#231f20" stroke-width="1.8" />
<line x1="316.5" y1="261.5" x2="350.5" y2="261.5" stroke="#231f20" stroke-width="1.8" />
<polygon points="376.3,261.5 350.6,245.9 350.6,277.1" fill="#231f20" stroke="none" stroke-width="0" />
<polygon points="407.9,261.5 433.6,245.9 433.6,277.1" fill="#231f20" stroke="none" stroke-width="0" />
<line x1="433.5" y1="261.5" x2="467" y2="261.5" stroke="#231f20" stroke-width="1.8" />
<line x1="354.9" y1="428" x2="354.9" y2="500" stroke="#231f20" stroke-width="1.8" />
<line x1="428.9" y1="428" x2="428.9" y2="500" stroke="#231f20" stroke-width="1.8" />
<line x1="502.8" y1="428.5" x2="502.8" y2="500" stroke="#231f20" stroke-width="1.8" />
<line x1="577" y1="428.5" x2="577" y2="500" stroke="#231f20" stroke-width="1.8" />
<line x1="296" y1="452.3" x2="330" y2="452.3" stroke="#231f20" stroke-width="1.8" />
<polygon points="354.6,452.3 328.9,436.7 328.9,467.9" fill="#231f20" stroke="none" stroke-width="0" />
<polygon points="429.2,452.3 454.9,436.7 454.9,467.9" fill="#231f20" stroke="none" stroke-width="0" />
<line x1="454.5" y1="452.3" x2="476.5" y2="452.3" stroke="#231f20" stroke-width="1.8" />
<polygon points="502.5,452.3 476.8,436.7 476.8,467.9" fill="#231f20" stroke="none" stroke-width="0" />
<polygon points="577.3,452.3 603,436.7 603,467.9" fill="#231f20" stroke="none" stroke-width="0" />
<line x1="603" y1="452.3" x2="635.4" y2="452.3" stroke="#231f20" stroke-width="1.8" />
<line x1="0" y1="502.6" x2="205" y2="502.6" stroke="#231f20" stroke-width="1.8" />
<line x1="0" y1="539.4" x2="202.7" y2="539.4" stroke="#231f20" stroke-width="1.8" />
<line x1="164.2" y1="518.2" x2="198.5" y2="518.2" stroke="#231f20" stroke-width="1.8" />
<polygon points="223.6,518.2 197.9,502.6 197.9,533.8" fill="#231f20" stroke="none" stroke-width="0" />
<polygon points="265.7,518.2 291.4,502.6 291.4,533.8" fill="#231f20" stroke="none" stroke-width="0" />
<line x1="291.5" y1="518.2" x2="311.8" y2="518.2" stroke="#231f20" stroke-width="1.8" />
<line x1="328" y1="518.2" x2="342" y2="518.2" stroke="#231f20" stroke-width="1.8" />
<polygon points="367.8,518.2 342.1,502.6 342.1,533.8" fill="#231f20" stroke="none" stroke-width="0" />
<polygon points="415.8,518.2 441.5,502.6 441.5,533.8" fill="#231f20" stroke="none" stroke-width="0" />
<line x1="441.6" y1="518.2" x2="475.7" y2="518.2" stroke="#231f20" stroke-width="1.8" />
<line x1="24.5" y1="443.3" x2="24.5" y2="478" stroke="#231f20" stroke-width="1.8" />
<polygon points="24.5,502.6 8.9,476.9 40.1,476.9" fill="#231f20" stroke="none" stroke-width="0" />
<polygon points="24.5,539.4 8.9,565.1 40.1,565.1" fill="#231f20" stroke="none" stroke-width="0" />
<line x1="24.5" y1="564" x2="24.5" y2="592.7" stroke="#231f20" stroke-width="1.8" />
<line x1="84" y1="660.7" x2="226" y2="660.7" stroke="#231f20" stroke-width="1.8" />
<line x1="83.9" y1="912" x2="227.5" y2="912" stroke="#231f20" stroke-width="1.8" />
<polygon points="108,660.7 92.4,686.4 123.6,686.4" fill="#231f20" stroke="none" stroke-width="0" />
<line x1="108" y1="685" x2="108" y2="713.2" stroke="#231f20" stroke-width="1.8" />
<line x1="108" y1="852.2" x2="108" y2="887" stroke="#231f20" stroke-width="1.8" />
<polygon points="108,912 92.4,886.3 123.6,886.3" fill="#231f20" stroke="none" stroke-width="0" />
<line x1="244.4" y1="914" x2="244.4" y2="975" stroke="#231f20" stroke-width="1.8" />
<line x1="539.8" y1="914" x2="539.8" y2="975" stroke="#231f20" stroke-width="1.8" />
<polygon points="244.4,950 270.1,934.4 270.1,965.6" fill="#231f20" stroke="none" stroke-width="0" />
<polygon points="539.8,950 514.1,934.4 514.1,965.6" fill="#231f20" stroke="none" stroke-width="0" />
<line x1="270" y1="950" x2="332.3" y2="950" stroke="#231f20" stroke-width="1.8" />
<line x1="451.4" y1="950" x2="514" y2="950" stroke="#231f20" stroke-width="1.8" />
<line x1="523.2" y1="666" x2="523.2" y2="728.2" stroke="#231f20" stroke-width="1.8" />
<line x1="556" y1="666" x2="556" y2="728.2" stroke="#231f20" stroke-width="1.8" />
<line x1="464.2" y1="703.9" x2="498.4" y2="703.9" stroke="#231f20" stroke-width="1.8" />
<polygon points="523.2,703.9 497.5,688.3 497.5,719.5" fill="#231f20" stroke="none" stroke-width="0" />
<polygon points="555.6,703.8 581.3,688.2 581.3,719.4" fill="#231f20" stroke="none" stroke-width="0" />
<line x1="581.4" y1="703.8" x2="611.1" y2="703.8" stroke="#231f20" stroke-width="1.8" />
<rect x="200" y="437.3" width="96" height="31" rx="0" fill="#fff" />
<text font-size="42" fill="#231f20" stroke="#fff" stroke-width="0.9"><tspan x="202.78" y="467.4" font-size="39.5" textLength="31.6" lengthAdjust="spacingAndGlyphs">Ø</tspan> <tspan x="245.52" y="467.4" textLength="46.84" lengthAdjust="spacingAndGlyphs">50</tspan></text>
<text font-size="42" fill="#231f20" stroke="#fff" stroke-width="0.9"><tspan x="641.21" y="468.3" font-size="39.5" textLength="35.33" lengthAdjust="spacingAndGlyphs">Ø</tspan> <tspan x="686.43" y="468.3" textLength="43.72" lengthAdjust="spacingAndGlyphs">50</tspan></text>
<text font-size="42" fill="#231f20" stroke="#fff" stroke-width="0.9"><tspan x="75.01" y="533.4" font-size="39.5" textLength="33.13" lengthAdjust="spacingAndGlyphs">Ø</tspan> <tspan x="118.94" y="533.4" textLength="45.85" lengthAdjust="spacingAndGlyphs">28</tspan></text>
<rect x="476" y="504" width="93" height="36" rx="0" fill="#fff" />
<rect x="569" y="504" width="11" height="33" rx="0" fill="#fff" />
<text font-size="42" fill="#231f20" stroke="#fff" stroke-width="0.9"><tspan x="478.5" y="533.3" font-size="39.5" textLength="31.05" lengthAdjust="spacingAndGlyphs">Ø</tspan> <tspan x="522.2" y="533.3" textLength="43.78" lengthAdjust="spacingAndGlyphs">32</tspan></text>
</svg>
</body></html>
